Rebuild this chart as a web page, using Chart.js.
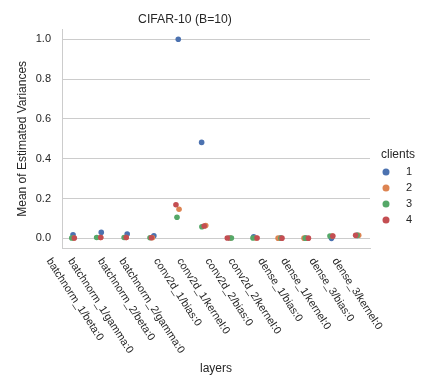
<!DOCTYPE html>
<html>
<head>
<meta charset="utf-8">
<script src="https://cdn.jsdelivr.net/npm/chart.js@4.4.0/dist/chart.umd.min.js"></script>
<style>
  html, body { margin: 0; padding: 0; background: #fff; }
  #chart { display: block; }
</style>
</head>
<body>
<canvas id="chart" width="423" height="376"></canvas>
<script>
// layer names on the x axis
const layers = [
  'batchnorm_1/beta:0', 'batchnorm_1/gamma:0', 'batchnorm_2/beta:0', 'batchnorm_2/gamma:0',
  'conv2d_1/bias:0', 'conv2d_1/kernel:0', 'conv2d_2/bias:0', 'conv2d_2/kernel:0',
  'dense_1/bias:0', 'dense_1/kernel:0', 'dense_3/bias:0', 'dense_3/kernel:0'
];
const clients = ['1', '2', '3', '4'];

// mean of estimated variances per client
const client1 = [0.018, 0.030, 0.022, 0.013, 1.000, 0.482, 0.002, 0.008, 0.001, 0.001, 0.000, 0.015];
const client2 = [0.002, 0.004, 0.004, 0.003, 0.146, 0.064, 0.002, 0.002, 0.001, 0.001, 0.012, 0.015];
const client3 = [0.002, 0.004, 0.004, 0.003, 0.106, 0.058, 0.002, 0.002, 0.001, 0.001, 0.012, 0.015];
const client4 = [0.002, 0.004, 0.004, 0.003, 0.169, 0.062, 0.002, 0.002, 0.001, 0.001, 0.012, 0.015];

// strip plot jitter (category units) as seen in the picture
const jitter1 = [-0.07, 0.03, 0.04, 0.08, 0.03, -0.06, 0.03, -0.03, 0.00, 0.00, 0.00, 0.00];
const jitter2 = [-0.05, 0.00, 0.00, 0.02, 0.06, 0.10, 0.05, 0.06, -0.08, -0.07, 0.04, 0.06];
const jitter3 = [-0.12, -0.15, -0.08, -0.07, -0.02, -0.05, 0.10, -0.06, 0.03, -0.02, -0.06, 0.00];
const jitter4 = [-0.02, 0.01, 0.00, -0.02, -0.06, 0.04, -0.06, 0.10, 0.07, 0.10, 0.05, -0.06];

const yTicks = [0, 0.2, 0.4, 0.6, 0.8, 1.0];

const font = "'Liberation Sans', Arial, sans-serif";
const textColor = '#262626';
const gridColor = '#cccccc';
const colors = ['#4c72b0', '#dd8452', '#55a868', '#c44e52'];

const seriesValues = [client1, client2, client3, client4];
const seriesJitter = [jitter1, jitter2, jitter3, jitter4];

function stripPoints(values, jitter) {
  return values.map((v, i) => ({ x: i + jitter[i], y: v }));
}

// x tick labels rotated clockwise, box centred under the tick
const rotatedLabels = {
  id: 'rotatedLabels',
  afterDraw(chart) {
    const ctx = chart.ctx;
    const xs = chart.scales.x;
    const angle = 57 * Math.PI / 180;
    const size = 10.8;
    const top = chart.chartArea.bottom + 8;
    ctx.save();
    ctx.font = size + 'px ' + font;
    ctx.fillStyle = textColor;
    ctx.textAlign = 'center';
    ctx.textBaseline = 'middle';
    layers.forEach((name, i) => {
      const w = ctx.measureText(name).width;
      const boxH = w * Math.sin(angle) + size * Math.cos(angle);
      ctx.save();
      ctx.translate(xs.getPixelForValue(i), top + boxH / 2);
      ctx.rotate(angle);
      ctx.fillText(name, 0, 0);
      ctx.restore();
    });
    ctx.restore();
  }
};

// seaborn-like hue legend at the right, centred on the figure
const hueLegend = {
  id: 'hueLegend',
  afterDraw(chart) {
    const ctx = chart.ctx;
    const right = chart.chartArea.right;
    const midY = chart.height / 2;
    ctx.save();
    ctx.fillStyle = textColor;
    ctx.textBaseline = 'middle';
    ctx.textAlign = 'center';
    ctx.font = '12px ' + font;
    ctx.fillText('clients', right + 28, midY - 33);
    ctx.font = '11px ' + font;
    ctx.textAlign = 'left';
    clients.forEach((c, k) => {
      const y = midY - 16 + k * 16;
      ctx.beginPath();
      ctx.arc(right + 16, y, 3.5, 0, Math.PI * 2);
      ctx.fillStyle = colors[k];
      ctx.fill();
      ctx.fillStyle = textColor;
      ctx.fillText(c, right + 36, y);
    });
    ctx.restore();
  }
};

new Chart(document.getElementById('chart'), {
  type: 'scatter',
  data: {
    datasets: clients.map((c, k) => ({
      label: c,
      data: stripPoints(seriesValues[k], seriesJitter[k]),
      backgroundColor: colors[k],
      borderWidth: 0,
      pointRadius: 2.8,
      order: clients.length - k
    }))
  },
  options: {
    responsive: false,
    animation: false,
    layout: { padding: { top: 0, right: 53, bottom: 0, left: 0 } },
    plugins: {
      legend: { display: false },
      tooltip: { enabled: false },
      title: {
        display: true,
        text: 'CIFAR-10 (B=10)',
        color: textColor,
        font: { family: font, size: 12.2, weight: 'normal' },
        padding: { top: 12.7, bottom: 2 }
      }
    },
    scales: {
      x: {
        type: 'linear',
        min: -0.5,
        max: 11.5,
        ticks: { display: false },
        grid: { display: false },
        border: { display: true, color: gridColor, width: 1 },
        title: {
          display: true,
          text: 'layers',
          color: textColor,
          font: { family: font, size: 12 },
          padding: { top: 0, bottom: 0 }
        },
        afterFit(scale) { scale.height = 127.7; }
      },
      y: {
        min: -0.05,
        max: 1.05,
        afterBuildTicks(scale) { scale.ticks = yTicks.map(v => ({ value: v })); },
        ticks: {
          padding: 11,
          color: textColor,
          font: { family: font, size: 11 },
          callback: v => v.toFixed(1)
        },
        grid: { color: gridColor, lineWidth: 1, drawTicks: false },
        border: { display: true, color: gridColor, width: 1 },
        title: {
          display: true,
          text: 'Mean of Estimated Variances',
          color: textColor,
          font: { family: font, size: 12 },
          padding: { top: 15.8, bottom: 0 }
        },
        afterFit(scale) { scale.width = 62; }
      }
    }
  },
  plugins: [rotatedLabels, hueLegend]
});
</script>
</body>
</html>
